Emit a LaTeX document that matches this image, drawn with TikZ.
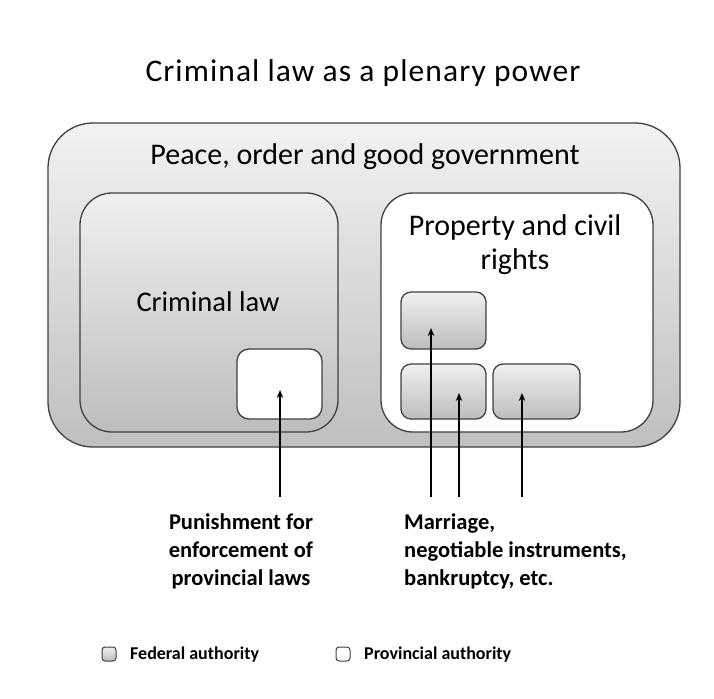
\documentclass[tikz,border=0pt]{standalone}
\usepackage{fontspec}
\setmainfont{Carlito}
\usetikzlibrary{arrows.meta,positioning}
\begin{document}
\begin{tikzpicture}[x=1pt,y=-1pt,
  federal/.style={draw=black!75,line width=1.3pt,top color=black!6,bottom color=black!26},
  provincial/.style={draw=black!75,line width=1.3pt,fill=white},
  label/.style={font=\fontsize{30}{34}\selectfont,text=black,inner sep=0pt},
  note/.style={font=\bfseries\fontsize{22.5}{28}\selectfont,inner sep=0pt},
  legend/.style={font=\bfseries\fontsize{18}{20}\selectfont,anchor=west,inner sep=0pt},
  link/.style={line width=1.5pt,-{Stealth[length=8pt,width=6.5pt]}}]
% canvas
\path[use as bounding box,fill=white] (0,0) rectangle (714,698);

% title
\node[font=\fontsize{31.5}{36}\selectfont\addfontfeatures{LetterSpace=3.5}] (title) at (363,73) {Criminal law as a plenary power};

% outer domain
\draw[federal,top color=black!5,bottom color=black!25,rounded corners=45pt] (48,123) rectangle (680,447);
\node[label] (pogg) at (365,157) {Peace, order and good government};

% criminal law
\draw[federal,rounded corners=32pt] (80,193) rectangle (338,432);
\node[label,font=\fontsize{28.5}{34}\selectfont] (crim) at (208,302) {Criminal law};
\draw[provincial,rounded corners=12pt] (237,349) rectangle (322,419);

% property and civil rights
\draw[provincial,rounded corners=32pt] (381,193) rectangle (653,432);
\node[label,align=center] (pcr) at (515,245) {Property and civil\\rights};
\draw[federal,rounded corners=10pt] (401,292) rectangle (486,349);
\draw[federal,rounded corners=10pt] (401,364) rectangle (486,419);
\draw[federal,rounded corners=10pt] (493,364) rectangle (580,419);

% arrow endpoints
\coordinate (p0) at (280,497); \coordinate (p1) at (280,390);
\coordinate (m0) at (431,497); \coordinate (m1) at (431,328);
\coordinate (n0) at (459,497); \coordinate (n1) at (459,393);
\coordinate (b0) at (522,497); \coordinate (b1) at (522,393);
\draw[link] (p0) -- (p1);
\draw[link] (m0) -- (m1);
\draw[link] (n0) -- (n1);
\draw[link] (b0) -- (b1);

% explanatory notes
\node[note,align=center] (pun) at (241,551) {Punishment for\\enforcement of\\provincial laws};
\node[note,align=left,anchor=west] (mar) at (404,551) {Marriage,\\negotiable instruments,\\bankruptcy, etc.};

% legend
\draw[federal,line width=1pt,rounded corners=3pt] (102,647) rectangle (116,661);
\node[legend] (fed) at (130,655) {Federal authority};
\draw[provincial,line width=1pt,rounded corners=3pt] (336,647) rectangle (350,661);
\node[legend] (prov) at (364,655) {Provincial authority};
\end{tikzpicture}
\end{document}
